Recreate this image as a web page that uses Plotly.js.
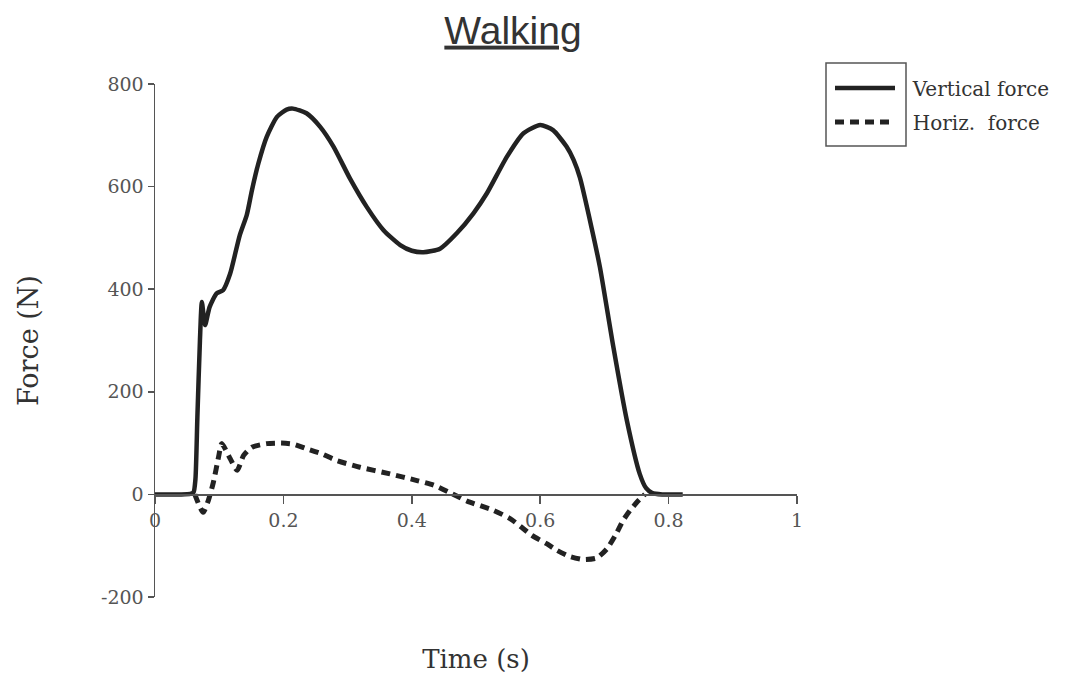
<!DOCTYPE html>
<html>
<head>
<meta charset="utf-8">
<script src="https://cdn.plot.ly/plotly-3.0.1.min.js"></script>
<style>html,body{margin:0;padding:0;background:#fff;}#chart{width:1067px;height:674px;}</style>
</head>
<body>
<div id="chart"></div>
<script>
// Vertical force (N) vs time (s)
const vertTime = [0, 0.02, 0.04, 0.055, 0.06, 0.063, 0.066, 0.07, 0.073, 0.078, 0.085, 0.096, 0.106, 0.117, 0.132, 0.143, 0.151, 0.161, 0.174, 0.19, 0.205, 0.215, 0.236, 0.257, 0.278, 0.304, 0.33, 0.356, 0.382, 0.4, 0.418, 0.444, 0.47, 0.496, 0.517, 0.548, 0.574, 0.6, 0.62, 0.641, 0.652, 0.662, 0.68, 0.693, 0.714, 0.735, 0.755, 0.765, 0.774, 0.79, 0.81, 0.822];
const vertForce = [0, 0, 0, 1, 4, 30, 150, 300, 375, 330, 365, 392, 398, 430, 505, 545, 593, 645, 697, 736, 750, 752, 743, 717, 678, 615, 560, 515, 486, 475, 472, 479, 509, 548, 587, 658, 704, 720, 710, 678, 652, 617, 520, 443, 287, 144, 40, 12, 3, 0, 0, 0];
// Horizontal force (N) vs time (s)
const horizTime = [0.062, 0.075, 0.083, 0.091, 0.099, 0.104, 0.117, 0.128, 0.138, 0.151, 0.174, 0.197, 0.215, 0.236, 0.26, 0.283, 0.319, 0.366, 0.408, 0.434, 0.46, 0.486, 0.527, 0.553, 0.571, 0.587, 0.61, 0.626, 0.646, 0.667, 0.688, 0.704, 0.717, 0.729, 0.74, 0.753, 0.763];
const horizForce = [0, -35, -12, 24, 73, 99, 70, 47, 76, 92, 99, 100, 98, 89, 79, 66, 53, 40, 27, 18, 3, -13, -31, -47, -64, -80, -96, -109, -121, -127, -124, -106, -80, -51, -31, -12, 0];
const seriesNames = ["Vertical force", "Horiz.  force"];
const xTicks = [0, 0.2, 0.4, 0.6, 0.8, 1];
const xTickLabels = ["0", "0.2", "0.4", "0.6", "0.8", "1"];
const yTicks = [-200, 0, 200, 400, 600, 800];
const yTickLabels = ["-200", "0", "200", "400", "600", "800"];

const W = 1067, H = 674;
const serif = "DejaVu Serif";
const axisGrey = "#555";
const pad = "\u00a0\u00a0";

const traces = [
  {x: vertTime, y: vertForce, type: "scatter", mode: "lines", name: pad + seriesNames[0],
   line: {color: "#222", width: 4.5, shape: "spline", smoothing: 0.6}, legend: "legend"},
  {x: horizTime, y: horizForce, type: "scatter", mode: "lines", name: pad + seriesNames[1],
   line: {color: "#222", width: 5, dash: "9px,6px", shape: "spline", smoothing: 0.6}, legend: "legend2"}
];

const legendCommon = {
  xref: "container", yref: "container", xanchor: "left", yanchor: "middle",
  font: {family: serif, size: 20, color: "#333"}, bgcolor: "rgba(0,0,0,0)",
  borderwidth: 0, itemwidth: 60
};

const layout = {
  width: W, height: H,
  margin: {l: 155, r: 270, t: 84, b: 77},
  paper_bgcolor: "#fff", plot_bgcolor: "#fff",
  showlegend: true,
  title: {text: "<u>Walking</u>", font: {family: "Liberation Sans", size: 39, color: "#333"},
          xref: "container", yref: "container", x: 513 / W, y: 1 - 30 / H, xanchor: "center", yanchor: "middle"},
  xaxis: {range: [0, 1], anchor: "free", position: 0.2, showline: true, linecolor: axisGrey, linewidth: 1.5,
          ticks: "outside", ticklen: 8, tickcolor: axisGrey, tickwidth: 1.5,
          tickvals: xTicks, ticktext: xTickLabels, showgrid: false, zeroline: false,
          tickfont: {family: serif, size: 19, color: axisGrey},
          title: {text: "Time (s)", font: {family: serif, size: 26, color: "#333"}, standoff: 120}},
  yaxis: {range: [-200, 800], showline: true, linecolor: axisGrey, linewidth: 1.5,
          ticks: "outside", ticklen: 6, tickcolor: axisGrey, tickwidth: 1.5,
          tickvals: yTicks, ticktext: yTickLabels, showgrid: false, zeroline: false,
          tickfont: {family: serif, size: 19, color: axisGrey},
          title: {text: "Force (N)", font: {family: serif, size: 27, color: "#333"}, standoff: 54}},
  legend: Object.assign({}, legendCommon, {x: 830 / W, y: 1 - 88 / H}),
  legend2: Object.assign({}, legendCommon, {x: 830 / W, y: 1 - 122 / H}),
  shapes: [{type: "rect", xref: "paper", yref: "paper",
            x0: (826 - 155) / 642, x1: (906 - 155) / 642,
            y0: (597 - 146) / 513, y1: (597 - 63) / 513,
            line: {color: axisGrey, width: 1.5}}]
};

Plotly.newPlot("chart", traces, layout, {displayModeBar: false, staticPlot: true});
</script>
</body>
</html>
